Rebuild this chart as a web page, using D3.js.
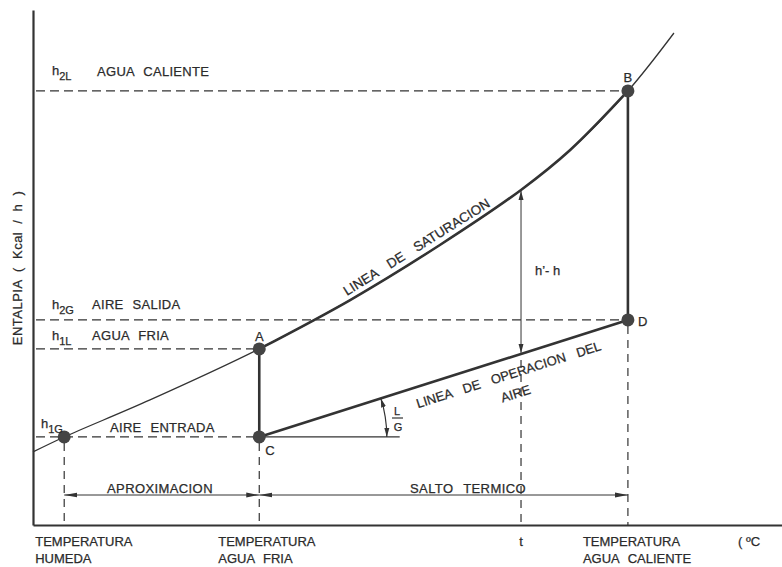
<!DOCTYPE html>
<html>
<head>
<meta charset="utf-8">
<title>Entalpia - torre de enfriamiento</title>
<script src="https://cdn.jsdelivr.net/npm/d3@7"></script>
<style>
  body { margin: 0; background: #fff; }
  svg text { font-family: "Liberation Sans", Arial, sans-serif; fill: #2b2b2b; stroke: #2b2b2b; stroke-width: 0.25; }
</style>
</head>
<body>
<svg id="chart" width="782" height="567"></svg>
<script>
// saturation curve (temperature, enthalpy)
let satTemp = [19.2, 20, 22.2, 25, 27.33, 29.63, 31.71, 32.97, 34.45, 35.63]
let satEnth = [12.54, 13.47, 15.77, 18.94, 21.98, 25.4, 28.82, 31.3, 34.97, 38.57]

// state points
let ptNames = ["", "A", "B", "C", "D"]
let ptTemp = [20, 25, 34.45, 25, 34.45]
let ptEnth = [13.47, 18.94, 34.97, 13.47, 20.74]

// horizontal reference levels
let levelSub = ["2L", "2G", "1L", "1G"]
let levelText = ["AGUA CALIENTE", "AIRE SALIDA", "AGUA FRIA", "AIRE ENTRADA"]
let levelEnth = [34.97, 20.74, 18.94, 13.47]
let levelTo = [34.45, 34.45, 25, 25]

// temperatures on the x axis
let tWet = 20, tCold = 25, tHot = 34.45, tMid = 31.71

let svg = d3.select("#chart")
let ink = "#333"

let x = d3.scaleLinear().domain([19.2, 38.4]).range([33, 782])
let y = d3.scaleLinear().domain([8, 40]).range([525, 10])

// markers for the little arrows
let defs = svg.append("defs")
defs.append("marker").attr("id", "arr")
    .attr("markerUnits", "userSpaceOnUse")
    .attr("markerWidth", 14).attr("markerHeight", 8)
    .attr("refX", 13).attr("refY", 4)
    .attr("orient", "auto-start-reverse")
    .append("path").attr("d", "M0,1.6 L13,4 L0,6.4 z").attr("fill", ink)
defs.append("marker").attr("id", "arrS")
    .attr("markerUnits", "userSpaceOnUse")
    .attr("markerWidth", 10).attr("markerHeight", 8)
    .attr("refX", 9).attr("refY", 4)
    .attr("orient", "auto-start-reverse")
    .append("path").attr("d", "M0,1.5 L9,4 L0,6.5 z").attr("fill", ink)

// axes (no ticks, only the lines)
svg.append("g").attr("transform", "translate(0," + y(8) + ")")
    .call(d3.axisBottom(x).tickValues([]).tickSizeOuter(0))
    .select(".domain").attr("stroke", ink).attr("stroke-width", 2.2)
svg.append("g").attr("transform", "translate(" + x(19.2) + ",0)")
    .call(d3.axisLeft(y).tickValues([]).tickSizeOuter(0))
    .select(".domain").attr("stroke", ink).attr("stroke-width", 2.2)

// dashed reference levels
let dash = "9,5"
levelEnth.forEach((h, i) => {
    svg.append("line")
        .attr("x1", x(19.2) + 3).attr("x2", x(levelTo[i]))
        .attr("y1", y(h)).attr("y2", y(h))
        .attr("stroke", ink).attr("stroke-width", 1.2).attr("stroke-dasharray", dash)
})

// dashed verticals down to the temperature axis
let opAt = t => ptEnth[3] + (t - tCold) / (tHot - tCold) * (ptEnth[4] - ptEnth[3])
let verts = [[tWet, ptEnth[0]], [tCold, ptEnth[3]], [tMid, opAt(tMid)], [tHot, ptEnth[4]]]
verts.forEach(v => {
    svg.append("line")
        .attr("x1", x(v[0])).attr("x2", x(v[0]))
        .attr("y1", y(v[1]) + 6).attr("y2", y(8))
        .attr("stroke", ink).attr("stroke-width", 1.2).attr("stroke-dasharray", "8,6")
})

// saturation curve: thin overall, thick between A and B
let satPts = satTemp.map((t, i) => [t, satEnth[i]])
let line = d3.line().x(d => x(d[0])).y(d => y(d[1])).curve(d3.curveCatmullRom)
svg.append("path").attr("d", line(satPts))
    .attr("fill", "none").attr("stroke", ink).attr("stroke-width", 1.3)
svg.append("path").attr("d", line(satPts.filter(d => d[0] >= tCold && d[0] <= tHot)))
    .attr("fill", "none").attr("stroke", ink).attr("stroke-width", 2.6)

// A-C, B-D and the operating line C-D
let thick = [[1, 3], [2, 4], [3, 4]]
thick.forEach(p => {
    svg.append("line")
        .attr("x1", x(ptTemp[p[0]])).attr("y1", y(ptEnth[p[0]]))
        .attr("x2", x(ptTemp[p[1]])).attr("y2", y(ptEnth[p[1]]))
        .attr("stroke", ink).attr("stroke-width", 2.6)
})

// horizontal from C for the L/G angle
let cx = x(tCold), cy = y(ptEnth[3])
svg.append("line").attr("x1", cx).attr("x2", x(28.6)).attr("y1", cy).attr("y2", cy)
    .attr("stroke", ink).attr("stroke-width", 1.3)
let ang = Math.atan2(cy - y(ptEnth[4]), x(tHot) - cx)
let r = x(28.27) - cx
svg.append("path")
    .attr("d", "M" + (cx + r) + "," + cy + " A" + r + "," + r + " 0 0 0 " +
        (cx + r * Math.cos(ang)) + "," + (cy - r * Math.sin(ang)))
    .attr("fill", "none").attr("stroke", ink).attr("stroke-width", 1.2)
    .attr("marker-start", "url(#arrS)").attr("marker-end", "url(#arrS)")

// h' - h arrow
let satMid = satEnth[satTemp.indexOf(tMid)]
svg.append("line").attr("x1", x(tMid)).attr("x2", x(tMid))
    .attr("y1", y(opAt(tMid)) - 1).attr("y2", y(satMid) + 1)
    .attr("stroke", ink).attr("stroke-width", 1)
    .attr("marker-start", "url(#arrS)").attr("marker-end", "url(#arrS)")

// dimension line: aproximacion / salto termico
let dimY = 495
svg.append("line").attr("x1", x(tCold)).attr("x2", x(tWet)).attr("y1", dimY).attr("y2", dimY)
    .attr("stroke", ink).attr("stroke-width", 1)
    .attr("marker-start", "url(#arr)").attr("marker-end", "url(#arr)")
svg.append("line").attr("x1", x(tCold)).attr("x2", x(tHot)).attr("y1", dimY).attr("y2", dimY)
    .attr("stroke", ink).attr("stroke-width", 1)
    .attr("marker-start", "url(#arr)").attr("marker-end", "url(#arr)")

// state points
svg.selectAll("circle.pt").data(ptTemp).enter().append("circle")
    .attr("class", "pt")
    .attr("cx", d => x(d)).attr("cy", (d, i) => y(ptEnth[i]))
    .attr("r", 6.5).attr("fill", "#444")

// ---- text ----
function txt(px, py, s, size, anchor) {
    return svg.append("text").attr("x", px).attr("y", py)
        .attr("font-size", size || 13).attr("text-anchor", anchor || "start").text(s)
}

// level labels with subscript
let hX = [52, 52, 52, 41], wordX = [97, 92, 92, 110], hY = [75, 309, 340, 428], wordY = [76, 309, 340, 432]
levelSub.forEach((s, i) => {
    let t = svg.append("text").attr("x", hX[i]).attr("y", hY[i]).attr("font-size", 13)
    t.append("tspan").text("h")
    t.append("tspan").attr("dy", 5).attr("font-size", 11).text(s)
    txt(wordX[i], wordY[i], levelText[i]).attr("letter-spacing", 0.3).attr("word-spacing", 5)
})

// point letters
txt(x(ptTemp[1]), y(ptEnth[1]) - 8, ptNames[1], 13, "middle")
txt(x(ptTemp[2]), y(ptEnth[2]) - 9, ptNames[2], 13, "middle")
txt(x(ptTemp[3]) + 6, y(ptEnth[3]) + 18, ptNames[3], 13)
txt(x(ptTemp[4]) + 10, y(ptEnth[4]) + 6, ptNames[4], 13)

// curve labels
let sx = 419, sy = 251
txt(sx, sy, "LINEA DE SATURACION", 13.5, "middle")
    .attr("transform", "rotate(-32," + sx + "," + sy + ")")
    .attr("word-spacing", 9)
let deg = -ang * 180 / Math.PI
txt(510, 379, "LINEA DE OPERACION DEL", 13, "middle")
    .attr("transform", "rotate(" + deg + ",510,379)")
    .attr("word-spacing", 8)
txt(517, 398, "AIRE", 13, "middle")
    .attr("transform", "rotate(" + deg + ",517,398)")

txt(535, 275, "h\u2019- h", 13)
txt(397, 415, "L", 11, "middle")
svg.append("line").attr("x1", 392).attr("x2", 403).attr("y1", 418).attr("y2", 418)
    .attr("stroke", ink).attr("stroke-width", 1.2)
txt(398, 431, "G", 11, "middle")

txt(107, 493, "APROXIMACION", 13).attr("letter-spacing", 0.4)
txt(410, 493, "SALTO TERMICO", 13).attr("letter-spacing", 0.4).attr("word-spacing", 6)

// axis labels
let bot = [[x(tWet) - 29, ["TEMPERATURA", "HUMEDA"]], [x(tCold) - 41, ["TEMPERATURA", "AGUA FRIA"]],
           [x(tHot) - 45, ["TEMPERATURA", "AGUA CALIENTE"]]]
bot.forEach(b => {
    b[1].forEach((s, j) => txt(b[0], 546 + j * 17, s, 13).attr("word-spacing", 5))
})
txt(x(tMid), 546, "t", 13, "middle")
txt(738, 546, "( \u00baC", 13)

txt(0, 0, "ENTALPIA  ( Kcal / h )", 13, "middle")
    .attr("transform", "translate(22,268) rotate(-90)")
    .attr("letter-spacing", 0.5).attr("word-spacing", 4)
</script>
</body>
</html>
